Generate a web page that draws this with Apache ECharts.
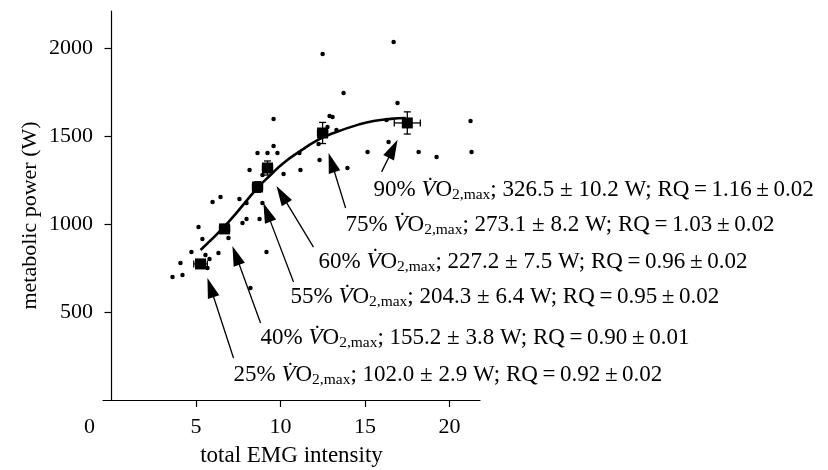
<!DOCTYPE html>
<html>
<head>
<meta charset="utf-8">
<script src="https://cdn.jsdelivr.net/npm/echarts@6/dist/echarts.min.js"></script>
<style>
  html, body { margin: 0; padding: 0; background: #fff; }
  #chart { width: 828px; height: 470px; }
</style>
</head>
<body>
<div id="chart"></div>
<script>
// raw trials (EMG intensity, metabolic power W)
var trialX = [3.61, 4.20, 4.08, 4.73, 5.56, 5.80, 5.68, 6.33, 5.15, 5.38, 5.98, 6.45, 6.92, 7.57, 7.99, 7.75, 7.99, 8.76, 8.93, 9.17,
              8.22, 8.17, 8.93, 8.64, 9.23, 9.82, 9.59, 9.59, 10.18, 11.18, 11.12, 12.31, 12.25, 12.49, 12.90, 13.08, 12.78, 13.31, 13.73, 13.96,
              15.15, 16.39, 16.27, 16.92, 16.69, 18.17, 19.23, 21.24, 21.30];
var trialY = [699, 710, 778, 841, 824, 801, 750, 835, 983, 915, 1125, 1153, 920, 1142, 1119, 1006, 1028, 1028, 1119, 841,
              636, 1307, 1278, 1403, 1403, 1403, 1443, 1597, 1284, 1307, 1403, 1364, 1455, 1966, 1614, 1608, 1551, 1534, 1744, 1318,
              1409, 1466, 1591, 1688, 2034, 1409, 1381, 1585, 1409];

// group means with errors
var meanX = [5.27, 6.69, 8.64, 9.23, 12.49, 17.50];
var meanY = [773, 972, 1210, 1318, 1517, 1574];
var errX = [0.40, 0.30, 0.30, 0.30, 0.30, 0.77];
var errY = [20, 25, 30, 40, 60, 63];

// fitted curve
var fitX = [5.27, 6.92, 8.64, 9.41, 10.18, 11.18, 12.19, 13.14, 14.73, 15.50, 16.51, 17.40];
var fitY = [852, 1011, 1205, 1278, 1347, 1415, 1477, 1517, 1568, 1585, 1597, 1602];

// annotations
var pct = ['25%', '40%', '55%', '60%', '75%', '90%'];
var watts = ['102.0 ± 2.9', '155.2 ± 3.8', '204.3 ± 6.4', '227.2 ± 7.5', '273.1 ± 8.2', '326.5 ± 10.2'];
var rq = ['0.92 ± 0.02', '0.90 ± 0.01', '0.95 ± 0.02', '0.96 ± 0.02', '1.03 ± 0.02', '1.16 ± 0.02'];
var noteX = [7.22, 8.82, 10.59, 12.25, 13.85, 15.50];
var noteY = [142, 352, 585, 784, 994, 1193];
var arrowFromX = [7.22, 8.82, 10.77, 11.95, 13.85, 15.98];
var arrowFromY = [239, 438, 670, 869, 1091, 1296];
var arrowToX = [5.86, 7.36, 9.20, 10.07, 13.02, 16.66];
var arrowToY = [639, 822, 1066, 1167, 1349, 1427];

var xTicks = [0, 5, 10, 15, 20];
var yTicks = [500, 1000, 1500, 2000];

var ink = '#000';
var serif = 'Liberation Serif';
var fs = 22;
var noteFs = 23;

var chart = echarts.init(document.getElementById('chart'));

var trials = trialX.map(function (x, i) { return [x, trialY[i]]; });
var means = meanX.map(function (x, i) { return [x, meanY[i], errX[i], errY[i]]; });
var fit = fitX.map(function (x, i) { return [x, fitY[i]]; });
var notes = noteX.map(function (x, i) { return [x, noteY[i], i]; });
var arrows = arrowFromX.map(function (x, i) {
    return [{ coord: [x, arrowFromY[i]] }, { coord: [arrowToX[i], arrowToY[i]] }];
});

var th = '\u2009';
function noteText(i) {
    return '{n|' + pct[i] + ' }{v|V\u0307}{n|O}{s|2,max}{n|; ' + watts[i] +
        ' W; RQ' + th + '=' + th + rq[i].replace(' ± ', th + '±' + th) + '}';
}

chart.setOption({
    animation: false,
    backgroundColor: '#fff',
    textStyle: { fontFamily: serif, color: ink },
    grid: { left: 103, right: 348, top: 11, bottom: 70, outerBoundsMode: 'none' },
    xAxis: {
        type: 'value',
        min: -0.5,
        max: 21.8,
        name: 'total EMG intensity',
        nameLocation: 'middle',
        nameGap: 44,
        nameTextStyle: { fontFamily: serif, fontSize: 23, color: ink },
        splitLine: { show: false },
        axisLine: { onZero: false, lineStyle: { color: ink, width: 1.2 } },
        axisTick: { customValues: [5, 10, 15, 20], length: 7, lineStyle: { color: ink, width: 1.2 } },
        axisLabel: {
            customValues: xTicks,
            margin: 16,
            fontFamily: serif,
            fontSize: fs,
            color: ink,
            formatter: function (v) { return v === 0 ? '{z|0}' : String(v); },
            rich: { z: { fontFamily: serif, fontSize: fs, color: ink, padding: [0, 44, 0, 0] } }
        }
    },
    yAxis: {
        type: 'value',
        min: 0,
        max: 2210,
        name: 'metabolic power (W)',
        nameLocation: 'middle',
        nameGap: 62,
        nameTextStyle: { fontFamily: serif, fontSize: 22, color: ink, padding: [0, 20, 0, 0] },
        splitLine: { show: false },
        axisLine: { onZero: true, lineStyle: { color: ink, width: 1.2 } },
        axisTick: { customValues: yTicks, length: 7, lineStyle: { color: ink, width: 1.2 } },
        axisLabel: {
            customValues: yTicks, margin: 10, fontFamily: serif, fontSize: fs, color: ink,
            formatter: function (v) { return String(v); }
        }
    },
    series: [
        {
            name: 'trials',
            type: 'scatter',
            data: trials,
            symbol: 'circle',
            symbolSize: 4.5,
            itemStyle: { color: ink, opacity: 1 },
            silent: true
        },
        {
            name: 'fit',
            type: 'line',
            data: fit,
            smooth: true,
            showSymbol: false,
            lineStyle: { color: ink, width: 2.6 },
            z: 3,
            silent: true
        },
        {
            name: 'error',
            type: 'custom',
            data: means,
            z: 4,
            silent: true,
            renderItem: function (params, api) {
                var x = api.value(0), y = api.value(1), ex = api.value(2), ey = api.value(3);
                var top = api.coord([x, y + ey]), bot = api.coord([x, y - ey]);
                var l = api.coord([x - ex, y]), r = api.coord([x + ex, y]);
                var cap = 3.5;
                var st = { stroke: ink, lineWidth: 1.3 };
                return {
                    type: 'group',
                    children: [
                        { type: 'line', shape: { x1: top[0], y1: top[1], x2: bot[0], y2: bot[1] }, style: st },
                        { type: 'line', shape: { x1: top[0] - cap, y1: top[1], x2: top[0] + cap, y2: top[1] }, style: st },
                        { type: 'line', shape: { x1: bot[0] - cap, y1: bot[1], x2: bot[0] + cap, y2: bot[1] }, style: st },
                        { type: 'line', shape: { x1: l[0], y1: l[1], x2: r[0], y2: r[1] }, style: st },
                        { type: 'line', shape: { x1: l[0], y1: l[1] - cap, x2: l[0], y2: l[1] + cap }, style: st },
                        { type: 'line', shape: { x1: r[0], y1: r[1] - cap, x2: r[0], y2: r[1] + cap }, style: st }
                    ]
                };
            }
        },
        {
            name: 'means',
            type: 'scatter',
            data: means,
            symbol: 'rect',
            symbolSize: 11,
            itemStyle: { color: ink, opacity: 1 },
            z: 5,
            silent: true
        },
        {
            name: 'notes',
            type: 'scatter',
            data: notes,
            symbolSize: 0,
            silent: true,
            z: 6,
            itemStyle: { opacity: 1 },
            label: {
                show: true,
                position: 'right',
                distance: 0,
                opacity: 1,
                formatter: function (p) { return noteText(p.value[2]); },
                rich: {
                    n: { fontFamily: serif, fontSize: noteFs, color: ink, lineHeight: 26 },
                    v: { fontFamily: serif, fontSize: noteFs, fontStyle: 'italic', color: ink, lineHeight: 26 },
                    s: { fontFamily: serif, fontSize: 15.5, color: ink, lineHeight: 13, verticalAlign: 'bottom' }
                }
            },
            markLine: {
                silent: true,
                animation: false,
                symbol: ['none', 'triangle'],
                symbolSize: [12, 20],
                label: { show: false },
                lineStyle: { color: ink, width: 1.3, type: 'solid', opacity: 1 },
                data: arrows
            }
        }
    ]
});
</script>
</body>
</html>
